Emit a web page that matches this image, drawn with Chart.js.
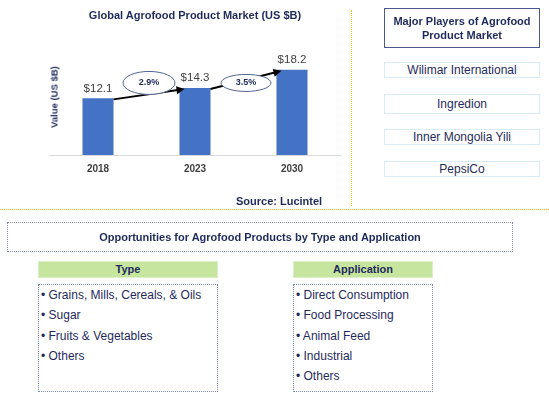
<!DOCTYPE html>
<html>
<head>
<meta charset="utf-8">
<script src="https://cdn.jsdelivr.net/npm/chart.js@4/dist/chart.umd.min.js"></script>
<style>
  body { margin: 0; background: #fff; font-family: "Liberation Sans", Arial, sans-serif; color: #1f2a5c; }
  #page { position: relative; width: 549px; height: 402px; overflow: hidden; }
  .abs { position: absolute; }
  #chartBox { left: 0; top: 0; width: 350px; height: 200px; }
  #title { left: 49px; width: 292px; top: 9px; text-align: center; font-weight: bold; font-size: 11px; }
  #ytitle { left: 54px; top: 97px; transform: translate(-50%, -50%) rotate(-90deg); font-weight: bold; font-size: 9.5px; white-space: nowrap; }
  #source { left: 236px; top: 195px; font-weight: bold; font-size: 11px; }
  #vline { left: 351px; top: 10px; height: 196px; border-left: 1px dotted #ffc000; }
  #hline { left: 0; top: 209px; width: 549px; border-top: 1px dotted #ffc000; }
  #players-head { left: 384px; top: 8px; width: 154px; height: 38px; border: 1px solid #4a5a8c; text-align: center; font-weight: bold; font-size: 11px; line-height: 14px; display: flex; align-items: center; justify-content: center; }
  .player { left: 384px; width: 154px; border: 1px solid #d8ecf6; text-align: center; font-size: 12px; display: flex; align-items: center; justify-content: center; }
  #opp { left: 7px; top: 222px; width: 504px; height: 28px; border: 1px dotted #7c89ad; text-align: center; font-weight: bold; font-size: 11px; line-height: 28px; }
  .head { top: 261px; height: 15px; background: #c6e6a0; border: 1px solid #dcefc6; text-align: center; font-weight: bold; font-size: 11px; line-height: 15px; }
  .list { top: 284px; height: 106px; border: 1px dotted #7c89ad; font-size: 12px; }
  .list div { height: 20.3px; line-height: 20px; padding-left: 2px; white-space: nowrap; }
</style>
</head>
<body>
<div id="page">
  <div id="chartBox" class="abs"><canvas id="myChart"></canvas></div>
  <div id="title" class="abs">Global Agrofood Product Market (US $B)</div>
  <div id="ytitle" class="abs">Value (US $B)</div>
  <div id="source" class="abs">Source: Lucintel</div>
  <div id="vline" class="abs"></div>
  <div id="hline" class="abs"></div>

  <div id="players-head" class="abs">Major Players of Agrofood<br>Product Market</div>
  <div id="players"></div>

  <div id="opp" class="abs">Opportunities for Agrofood Products by Type and Application</div>
  <div class="abs head" style="left:38px;width:178px;">Type</div>
  <div class="abs head" style="left:293px;width:138px;">Application</div>
  <div id="typeList" class="abs list" style="left:38px;width:178px;"></div>
  <div id="appList" class="abs list" style="left:293px;width:138px;"></div>
</div>

<script>
// datos del grafico
const years = ['2018', '2023', '2030']
const values = [12.1, 14.3, 18.2]
const valueLabels = ['$12.1', '$14.3', '$18.2']
const cagrLabels = ['2.9%', '3.5%']

// datos de los paneles
const players = ['Wilimar International', 'Ingredion', 'Inner Mongolia Yili', 'PepsiCo']
const types = ['Grains, Mills, Cereals, & Oils', 'Sugar', 'Fruits & Vegetables', 'Others']
const applications = ['Direct Consumption', 'Food Processing', 'Animal Feed', 'Industrial', 'Others']

const playerTops = [62, 94, 129, 161]
const playerHeights = [14, 18, 14, 14]
players.forEach((p, i) => {
    const d = document.createElement('div')
    d.className = 'abs player'
    d.style.top = playerTops[i] + 'px'
    d.style.height = playerHeights[i] + 'px'
    d.textContent = p
    document.getElementById('players').appendChild(d)
})

const fillList = (id, items) => {
    const box = document.getElementById(id)
    items.forEach((t) => {
        const d = document.createElement('div')
        d.textContent = '\u2022 ' + t
        box.appendChild(d)
    })
}
fillList('typeList', types)
fillList('appList', applications)

// tamaño de las elipses de CAGR
const ellipseRx = [26, 25]
const ellipseRy = [11.5, 8.5]

// flechas, elipses y etiquetas
const extrasPlugin = {
    id: 'extras',
    afterDatasetsDraw(chart) {
        const ctx = chart.ctx
        const bars = chart.getDatasetMeta(0).data
        const bubbleY = chart.scales.y.getPixelForValue(15.4)
        ctx.save()

        ctx.fillStyle = '#404040'
        ctx.font = '11.5px "Liberation Sans", Arial'
        ctx.textAlign = 'center'
        ctx.textBaseline = 'middle'
        bars.forEach((b, i) => ctx.fillText(valueLabels[i], b.x, b.y - 10))

        for (let i = 0; i < bars.length - 1; i++) {
            const a = bars[i], b = bars[i + 1]
            const x1 = a.x + a.width / 2, y1 = a.y + 1
            const x2 = b.x - b.width / 2 + 5, y2 = b.y + 1
            const ang = Math.atan2(y2 - y1, x2 - x1)
            ctx.strokeStyle = '#000'
            ctx.fillStyle = '#000'
            ctx.lineWidth = 2
            ctx.beginPath()
            ctx.moveTo(x1, y1)
            ctx.lineTo(x2 - 5 * Math.cos(ang), y2 - 5 * Math.sin(ang))
            ctx.stroke()
            ctx.beginPath()
            ctx.moveTo(x2, y2)
            ctx.lineTo(x2 - 8 * Math.cos(ang) + 4 * Math.sin(ang), y2 - 8 * Math.sin(ang) - 4 * Math.cos(ang))
            ctx.lineTo(x2 - 8 * Math.cos(ang) - 4 * Math.sin(ang), y2 - 8 * Math.sin(ang) + 4 * Math.cos(ang))
            ctx.closePath()
            ctx.fill()

            const cx = (x1 + x2) / 2, cy = bubbleY
            ctx.beginPath()
            ctx.ellipse(cx, cy, ellipseRx[i], ellipseRy[i], 0, 0, Math.PI * 2)
            ctx.fillStyle = '#fff'
            ctx.fill()
            ctx.lineWidth = 1
            ctx.strokeStyle = '#4f6592'
            ctx.stroke()
            ctx.fillStyle = '#1f2a5c'
            ctx.font = 'bold 9px "Liberation Sans", Arial'
            ctx.fillText(cagrLabels[i], cx, cy)
        }
        ctx.restore()
    }
}

let ctx = document.getElementById('myChart').getContext('2d')
let myChart = new Chart(ctx, {
    type: 'bar',
    data: {
        labels: years,
        datasets: [{
            label: 'Value (US $B)',
            data: values,
            backgroundColor: '#4472c4',
            barPercentage: 0.32,
            categoryPercentage: 1
        }]
    },
    options: {
        responsive: true,
        maintainAspectRatio: false,
        animation: false,
        layout: { padding: { left: 49.5, right: 9.5, top: 38, bottom: 25 } },
        plugins: { legend: { display: false }, tooltip: { enabled: false } },
        scales: {
            x: {
                grid: { display: false },
                border: { display: true, color: '#d9d9d9', width: 1 },
                ticks: { color: '#404040', padding: 0, font: { family: '"Liberation Sans", Arial', size: 10, weight: 'bold' } }
            },
            y: { display: false, min: 0, max: 25 }
        }
    },
    plugins: [extrasPlugin]
})
</script>
</body>
</html>
